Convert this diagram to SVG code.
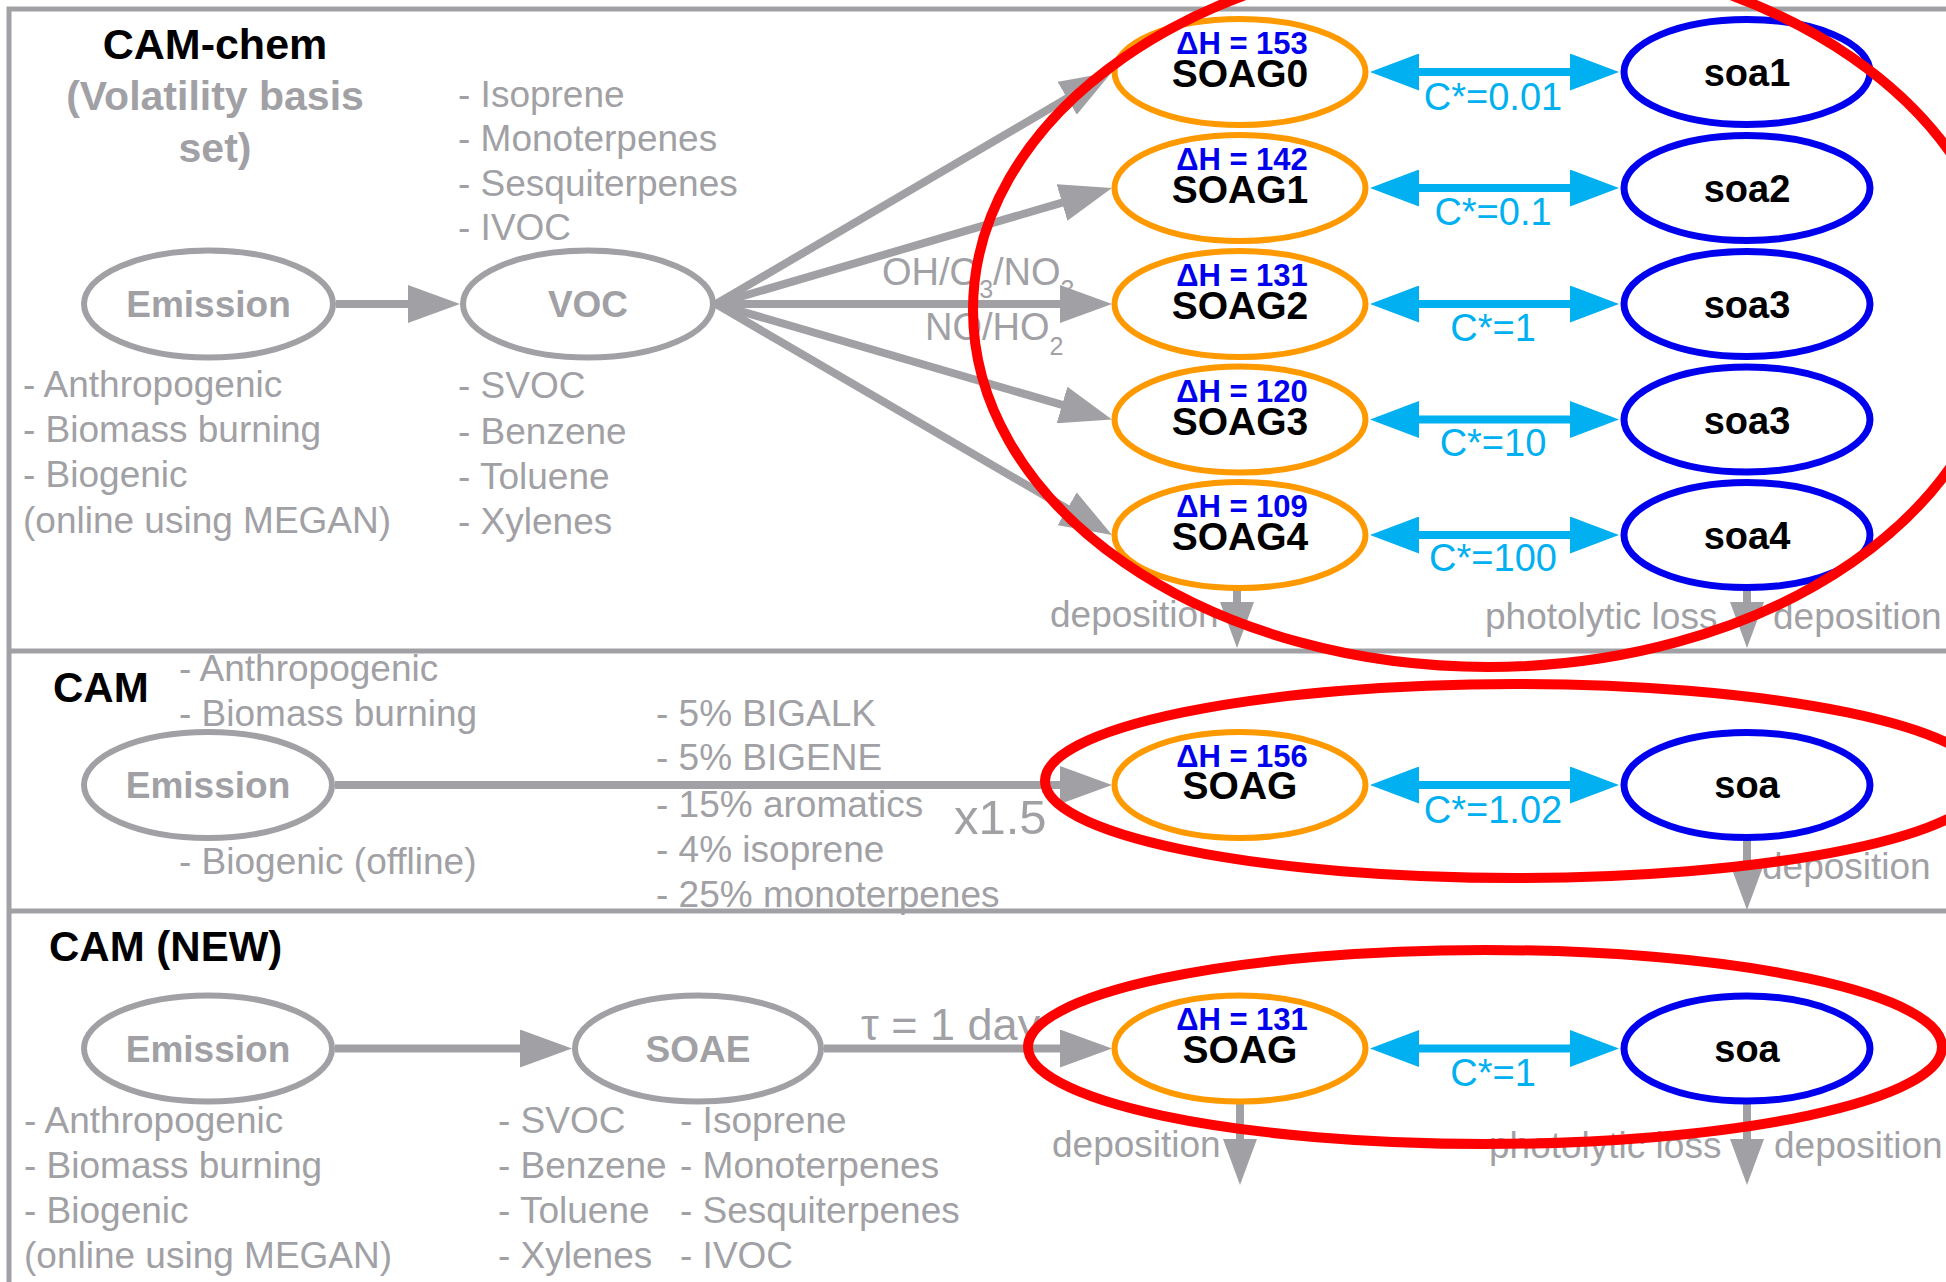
<svg xmlns="http://www.w3.org/2000/svg" width="1946" height="1282" viewBox="0 0 1946 1282">
<style>
text{font-family:"Liberation Sans",Arial,sans-serif}
.frame{stroke:#a1a1a5;stroke-width:5;fill:none}
.gnode{fill:#fff;stroke:#a1a1a5;stroke-width:6}
.onode{fill:#fff;stroke:#ff9900;stroke-width:6}
.bnode{fill:#fff;stroke:#0000ee;stroke-width:7}
.red{fill:none;stroke:#ff0000;stroke-width:10}
.gline{stroke:#a1a1a5;stroke-width:8;fill:none;marker-end:url(#gh)}
.cline{stroke:#00b0f0;stroke-width:8;fill:none;marker-start:url(#ch);marker-end:url(#ch)}
.dline{stroke:#a1a1a5;stroke-width:8;fill:none;marker-end:url(#dh)}
.title{font-size:42px;font-weight:bold;fill:#000}
.sub{font-size:41px;font-weight:bold;fill:#a1a1a5;text-anchor:middle}
.glab{font-size:37px;font-weight:bold;fill:#a1a1a5;text-anchor:middle}
.gt{font-size:37px;fill:#a1a1a5}
.soag{font-size:39px;font-weight:bold;fill:#000;text-anchor:middle}
.soa{font-size:38px;font-weight:bold;fill:#000;text-anchor:middle}
.dh{font-size:31px;font-weight:bold;fill:#0000ee;text-anchor:middle}
.cs{font-size:38px;fill:#00b0f0;text-anchor:middle}
.subs{font-size:25px}
</style>
<defs>
<marker id="gh" markerUnits="userSpaceOnUse" viewBox="0 0 52 38" markerWidth="52" markerHeight="38" refX="1" refY="19" orient="auto"><path d="M0,0 L52,19 L0,38 z" fill="#a1a1a5"/></marker>
<marker id="ch" markerUnits="userSpaceOnUse" viewBox="0 0 49 37" markerWidth="49" markerHeight="37" refX="1" refY="18.5" orient="auto-start-reverse"><path d="M0,0 L49,18.5 L0,37 z" fill="#00b0f0"/></marker>
<marker id="dh" markerUnits="userSpaceOnUse" viewBox="0 0 46 34" markerWidth="46" markerHeight="34" refX="1" refY="17" orient="auto"><path d="M0,0 L46,17 L0,34 z" fill="#a1a1a5"/></marker>
</defs>
<rect width="1946" height="1282" fill="#fff"/>
<g id="frame">
<path class="frame" d="M9,1282 V9 H1946 M9,651 H1946 M9,911 H1946"/>
</g>
<g id="annotations">
<text class="title" x="215" y="59" text-anchor="middle" style="font-size:43px">CAM-chem</text>
<text class="sub" x="215" y="110">(Volatility basis</text>
<text class="sub" x="215" y="162">set)</text>
<text class="gt" x="23" y="397">- Anthropogenic</text>
<text class="gt" x="23" y="442">- Biomass burning</text>
<text class="gt" x="23" y="487">- Biogenic</text>
<text class="gt" x="23" y="533">(online using MEGAN)</text>
<text class="gt" x="458" y="107">- Isoprene</text>
<text class="gt" x="458" y="151">- Monoterpenes</text>
<text class="gt" x="458" y="196">- Sesquiterpenes</text>
<text class="gt" x="458" y="240">- IVOC</text>
<text class="gt" x="458" y="398">- SVOC</text>
<text class="gt" x="458" y="444">- Benzene</text>
<text class="gt" x="458" y="489">- Toluene</text>
<text class="gt" x="458" y="534">- Xylenes</text>
<text class="gt" x="882" y="285" style="font-size:38px">OH/O<tspan class="subs" dy="13">3</tspan><tspan dy="-13">/NO</tspan><tspan class="subs" dy="13">3</tspan></text>
<text class="gt" x="925" y="340" style="font-size:38px">NO/HO<tspan class="subs" dy="15">2</tspan></text>
<text class="gt" x="1050" y="627">deposition</text>
<text class="gt" x="1485" y="629">photolytic loss</text>
<text class="gt" x="1773" y="629">deposition</text>

<text class="title" x="53" y="702">CAM</text>
<text class="gt" x="179" y="681">- Anthropogenic</text>
<text class="gt" x="179" y="726">- Biomass burning</text>
<text class="gt" x="179" y="874">- Biogenic (offline)</text>
<text class="gt" x="656" y="726">- 5% BIGALK</text>
<text class="gt" x="656" y="770">- 5% BIGENE</text>
<text class="gt" x="656" y="817">- 15% aromatics</text>
<text class="gt" x="656" y="862">- 4% isoprene</text>
<text class="gt" x="656" y="907">- 25% monoterpenes</text>
<text class="gt" x="954" y="834" style="font-size:49px">x1.5</text>
<text class="gt" x="1762" y="879">deposition</text>

<text class="title" x="49" y="961">CAM (NEW)</text>
<text class="gt" x="861" y="1040" style="font-size:45px">τ = 1 day</text>
<text class="gt" x="24" y="1133">- Anthropogenic</text>
<text class="gt" x="24" y="1178">- Biomass burning</text>
<text class="gt" x="24" y="1223">- Biogenic</text>
<text class="gt" x="24" y="1268">(online using MEGAN)</text>
<text class="gt" x="498" y="1133">- SVOC</text>
<text class="gt" x="498" y="1178">- Benzene</text>
<text class="gt" x="498" y="1223">- Toluene</text>
<text class="gt" x="498" y="1268">- Xylenes</text>
<text class="gt" x="680" y="1133">- Isoprene</text>
<text class="gt" x="680" y="1178">- Monoterpenes</text>
<text class="gt" x="680" y="1223">- Sesquiterpenes</text>
<text class="gt" x="680" y="1268">- IVOC</text>
<text class="gt" x="1052" y="1157">deposition</text>
<text class="gt" x="1489" y="1158">photolytic loss</text>
<text class="gt" x="1774" y="1158">deposition</text>
</g>
<g id="connectors">
<path class="gline" d="M336,304 H409"/>
<path class="gline" d="M716,304 L1068,97.8"/>
<path class="gline" d="M716,304 L1063,202.3"/>
<path class="gline" d="M716,304 H1061"/>
<path class="gline" d="M716,304 L1063,405.2"/>
<path class="gline" d="M716,304 L1068,509.3"/>
<path class="cline" d="M1418,72 H1571"/>
<path class="cline" d="M1418,188 H1571"/>
<path class="cline" d="M1418,304 H1571"/>
<path class="cline" d="M1418,419.5 H1571"/>
<path class="cline" d="M1418,535 H1571"/>
<path class="dline" d="M1237,585 V603"/>
<path class="dline" d="M1747,585 V603"/>
<path class="gline" d="M335,785 H1061"/>
<path class="cline" d="M1418,785 H1571"/>
<path class="dline" d="M1747,836 V865"/>
<path class="gline" d="M335,1048.5 H521"/>
<path class="gline" d="M824,1048.5 H1061"/>
<path class="cline" d="M1418,1048.5 H1571"/>
<path class="dline" d="M1240,1100 V1140"/>
<path class="dline" d="M1747,1100 V1140"/>
</g>
<g id="emission1"><ellipse class="gnode" cx="208.5" cy="304" rx="124.5" ry="53.5"/><text class="glab" x="208.5" y="317">Emission</text></g>
<g id="voc"><ellipse class="gnode" cx="588" cy="304" rx="125" ry="53.5"/><text class="glab" x="588" y="317">VOC</text></g>
<g id="soag0"><ellipse class="onode" cx="1240" cy="72" rx="125.5" ry="53"/><text class="dh" x="1242" y="54">ΔH = 153</text><text class="soag" x="1240" y="87">SOAG0</text></g>
<g id="soag1"><ellipse class="onode" cx="1240" cy="188" rx="125.5" ry="53"/><text class="dh" x="1242" y="170">ΔH = 142</text><text class="soag" x="1240" y="203">SOAG1</text></g>
<g id="soag2"><ellipse class="onode" cx="1240" cy="304" rx="125.5" ry="53"/><text class="dh" x="1242" y="286">ΔH = 131</text><text class="soag" x="1240" y="319">SOAG2</text></g>
<g id="soag3"><ellipse class="onode" cx="1240" cy="419.5" rx="125.5" ry="53"/><text class="dh" x="1242" y="401.5">ΔH = 120</text><text class="soag" x="1240" y="434.5">SOAG3</text></g>
<g id="soag4"><ellipse class="onode" cx="1240" cy="535" rx="125.5" ry="53"/><text class="dh" x="1242" y="517">ΔH = 109</text><text class="soag" x="1240" y="550">SOAG4</text></g>
<g id="soa1"><ellipse class="bnode" cx="1747" cy="72" rx="123" ry="52.5"/><text class="soa" x="1747" y="86">soa1</text></g>
<g id="soa2"><ellipse class="bnode" cx="1747" cy="188" rx="123" ry="52.5"/><text class="soa" x="1747" y="202">soa2</text></g>
<g id="soa3a"><ellipse class="bnode" cx="1747" cy="304" rx="123" ry="52.5"/><text class="soa" x="1747" y="318">soa3</text></g>
<g id="soa3b"><ellipse class="bnode" cx="1747" cy="419.5" rx="123" ry="52.5"/><text class="soa" x="1747" y="433.5">soa3</text></g>
<g id="soa4"><ellipse class="bnode" cx="1747" cy="535" rx="123" ry="52.5"/><text class="soa" x="1747" y="549">soa4</text></g>
<g id="cstar-top">
<text class="cs" x="1493" y="110">C*=0.01</text>
<text class="cs" x="1493" y="225">C*=0.1</text>
<text class="cs" x="1493" y="341">C*=1</text>
<text class="cs" x="1493" y="456">C*=10</text>
<text class="cs" x="1493" y="571">C*=100</text>
</g>
<g id="emission2"><ellipse class="gnode" cx="208" cy="785" rx="124" ry="53"/><text class="glab" x="208" y="798">Emission</text></g>
<g id="soag-cam"><ellipse class="onode" cx="1240" cy="785" rx="125.5" ry="53"/><text class="dh" x="1242" y="767">ΔH = 156</text><text class="soag" x="1240" y="799">SOAG</text></g>
<g id="soa-cam"><ellipse class="bnode" cx="1747" cy="785" rx="123" ry="52.5"/><text class="soa" x="1747" y="798">soa</text></g>
<text class="cs" x="1493" y="823">C*=1.02</text>
<g id="emission3"><ellipse class="gnode" cx="208" cy="1048.5" rx="124" ry="53"/><text class="glab" x="208" y="1062">Emission</text></g>
<g id="soae"><ellipse class="gnode" cx="698" cy="1048.5" rx="123" ry="53"/><text class="glab" x="698" y="1062">SOAE</text></g>
<g id="soag-new"><ellipse class="onode" cx="1240" cy="1048.5" rx="125.5" ry="53"/><text class="dh" x="1242" y="1030">ΔH = 131</text><text class="soag" x="1240" y="1063">SOAG</text></g>
<g id="soa-new"><ellipse class="bnode" cx="1747" cy="1048.5" rx="123" ry="52.5"/><text class="soa" x="1747" y="1062">soa</text></g>
<text class="cs" x="1493" y="1086">C*=1</text>
<g id="highlights">
<ellipse class="red" cx="1488" cy="310" rx="515" ry="357"/>
<ellipse class="red" cx="1515" cy="781" rx="470" ry="97"/>
<ellipse class="red" cx="1485" cy="1047" rx="457" ry="97"/>
</g>
</svg>
